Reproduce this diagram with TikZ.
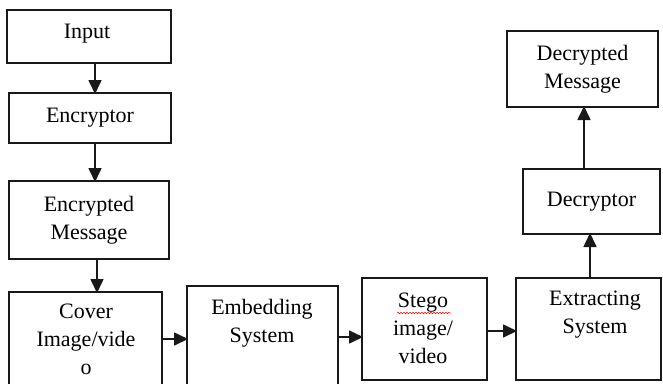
\documentclass[tikz,border=0pt]{standalone}
\usepackage{fontspec}
\setmainfont{Liberation Serif}
\usetikzlibrary{arrows.meta,decorations.pathmorphing}
\tikzset{
  box/.style={draw=black!90, line width=1.6pt, rectangle, inner sep=0pt, outer sep=0pt},
  lbl/.style={font=\fontsize{22}{28}\selectfont, align=center, inner sep=0pt, text=black},
  arr/.style={line width=1.6pt, draw=black!90, -{Triangle[length=14pt,width=13pt]}, shorten >=-1pt},
}
\begin{document}
\begin{tikzpicture}[x=1pt,y=-1pt]
\useasboundingbox (0,0) rectangle (663,383);
\clip (0,0) rectangle (663,383);
\fill[white] (0,0) rectangle (663,383);
% left column
\node[box, minimum width=164pt, minimum height=53pt] (in) at (89,36.5) {};
\node[lbl] (int) at (87,34) {Input};
\node[box, minimum width=162pt, minimum height=50pt, lbl] (enc) at (90,118) {Encryptor};
\node[box, minimum width=160pt, minimum height=78pt, lbl] (em) at (89,220) {Encrypted\\Message};
\node[box, minimum width=153pt, minimum height=120pt] (cov) at (85.5,352) {};
\node[lbl, anchor=north] (covt) at (86,304) {Cover\\Image/vide\\o};
\node[box, minimum width=151pt, minimum height=120pt] (emb) at (262.5,346) {};
\node[lbl, anchor=north] (embt) at (262,299) {Embedding\\System};
\node[box, minimum width=125pt, minimum height=102pt] (st) at (424.5,329) {};
\node[lbl, anchor=north] (stt) at (423,293) {Stego\\image/\\video};
\node[box, minimum width=145pt, minimum height=102pt] (ex) at (588.5,329) {};
\node[lbl, anchor=north] (ext) at (595,291) {Extracting\\System};
\node[box, minimum width=137pt, minimum height=65pt, lbl] (dec) at (591.5,201.5) {Decryptor};
\node[box, minimum width=151pt, minimum height=76pt, lbl] (dm) at (582.5,69) {Decrypted\\Message};
% red spell-check squiggle
\draw[red, line width=0.5pt, decorate, decoration={snake, amplitude=0.8pt, segment length=3pt}] (397,313) -- (451,313);
% helper coordinates
\coordinate (c1) at (95,0);
\coordinate (c2) at (97,0);
\coordinate (r1) at (0,339);
\coordinate (r2) at (0,337);
\coordinate (r3) at (0,331);
\coordinate (c3) at (590,0);
\coordinate (c4) at (584,0);
% connectors
\draw[arr] (in.south -| c1) -- (enc.north -| c1);
\draw[arr] (enc.south -| c1) -- (em.north -| c1);
\draw[arr] (em.south -| c2) -- (cov.north -| c2);
\draw[arr] (cov.east |- r1) -- (emb.west |- r1);
\draw[arr] (emb.east |- r2) -- (st.west |- r2);
\draw[arr] (st.east |- r3) -- (ex.west |- r3);
\draw[arr] (ex.north -| c3) -- (dec.south -| c3);
\draw[arr] (dec.north -| c4) -- (dm.south -| c4);
\end{tikzpicture}
\end{document}
